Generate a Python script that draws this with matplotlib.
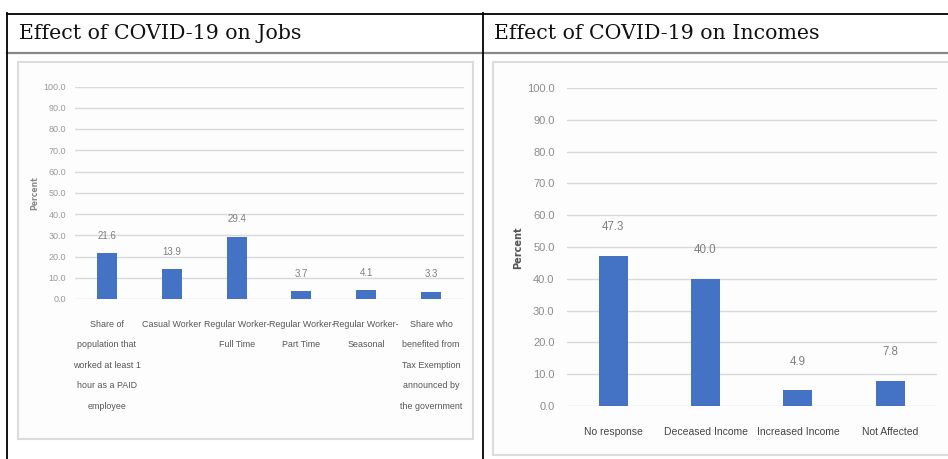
import matplotlib
matplotlib.use("Agg")
import matplotlib.pyplot as plt
from matplotlib.lines import Line2D
from matplotlib.patches import Rectangle

W, H = 948, 459

# ---- data ----
jobs_labels = [
    "Share of\npopulation that\nworked at least 1\nhour as a PAID\nemployee",
    "Casual Worker",
    "Regular Worker-\nFull Time",
    "Regular Worker-\nPart Time",
    "Regular Worker-\nSeasonal",
    "Share who\nbenefited from\nTax Exemption\nannounced by\nthe government",
]
jobs_values = [21.6, 13.9, 29.4, 3.7, 4.1, 3.3]

income_labels = ["No response", "Deceased Income", "Increased Income", "Not Affected"]
income_values = [47.3, 40.0, 4.9, 7.8]

y_ticks = [0, 10, 20, 30, 40, 50, 60, 70, 80, 90, 100]
titles = ["Effect of COVID-19 on Jobs", "Effect of COVID-19 on Incomes"]

BAR = "#4472C4"
GRID = "#d9d9d9"
TXT = "#7f7f7f"
NARROW = ["Liberation Sans Narrow", "Liberation Sans", "DejaVu Sans"]

fig = plt.figure(figsize=(W / 100, H / 100), dpi=100)
fig.patch.set_facecolor("white")


def fx(x):
    return x / W


def fy(y):
    return 1 - y / H


def hline(x0, x1, y, color, lw):
    fig.add_artist(Line2D([fx(x0), fx(x1)], [fy(y), fy(y)], color=color, lw=lw,
                          transform=fig.transFigure))


def vline(x, y0, y1, color, lw):
    fig.add_artist(Line2D([fx(x), fx(x)], [fy(y0), fy(y1)], color=color, lw=lw,
                          transform=fig.transFigure))


# chart image boxes
for (x0, y0, x1, y1) in [(18, 62, 473, 439), (493, 62, 952, 455)]:
    fig.add_artist(Rectangle((fx(x0), fy(y1)), fx(x1) - fx(x0), fy(y0) - fy(y1),
                             transform=fig.transFigure, facecolor="#fdfdfd",
                             edgecolor="#dcdcdc", lw=1.5, zorder=0))

# table lines
hline(7, 948, 13.5, "black", 1.3)
hline(7, 948, 52.5, "#888888", 1.6)
vline(7, 13, 459, "black", 1.3)
vline(483, 13, 459, "black", 1.3)

# titles
fig.text(fx(19), fy(33.5), titles[0], family="DejaVu Serif", fontsize=14.8,
         va="center", ha="left", color="#111111")
fig.text(fx(494), fy(33.5), titles[1], family="DejaVu Serif", fontsize=14.8,
         va="center", ha="left", color="#111111")


def make_axes(left, right, top, bottom):
    ax = fig.add_axes([fx(left), fy(bottom), fx(right) - fx(left), fy(top) - fy(bottom)])
    ax.set_facecolor("none")
    for s in ax.spines.values():
        s.set_visible(False)
    ax.set_ylim(0, 100)
    ax.set_yticks(y_ticks)
    ax.yaxis.grid(True, color=GRID, lw=1.0)
    ax.set_axisbelow(True)
    ax.tick_params(length=0)
    return ax


# ---- left chart ----
ax1 = make_axes(74.5, 463.5, 86.5, 299)
x1 = list(range(len(jobs_values)))
ax1.bar(x1, jobs_values, width=0.31, color=BAR, zorder=3)
ax1.set_xlim(-0.5, len(jobs_values) - 0.5)
ax1.set_yticks(y_ticks)
ax1.set_yticklabels([f"{v:.1f}" for v in y_ticks], family=NARROW, fontsize=6.5, color="#9a9a9a")
ax1.set_xticks(x1)
ax1.set_xticklabels(jobs_labels, family=NARROW, fontsize=6.4, color="#555555",
                    linespacing=2.65, va="top")
ax1.tick_params(axis="x", pad=15)
ax1.tick_params(axis="y", pad=6)
for xi, v in zip(x1, jobs_values):
    ax1.annotate(f"{v:.1f}", (xi, v), xytext=(0, 9), textcoords="offset points",
                 ha="center", va="bottom", family=NARROW, fontsize=7, color=TXT)
fig.text(fx(35), fy(193), "Percent", rotation=90, ha="center", va="center",
         family="DejaVu Sans", fontsize=5.5, fontweight="bold", color="#8a8a8a")

# ---- right chart ----
ax2 = make_axes(567, 936.5, 88, 406)
x2 = list(range(len(income_values)))
ax2.bar(x2, income_values, width=0.315, color=BAR, zorder=3)
ax2.set_xlim(-0.5, len(income_values) - 0.5)
ax2.set_yticklabels([f"{v:.1f}" for v in y_ticks], family=NARROW, fontsize=8, color="#8c8c8c")
ax2.set_xticks(x2)
ax2.set_xticklabels(income_labels, family=NARROW, fontsize=7.5, color="#444444")
ax2.tick_params(axis="x", pad=15)
ax2.tick_params(axis="y", pad=9)
for xi, v in zip(x2, income_values):
    ax2.annotate(f"{v:.1f}", (xi, v), xytext=(0, 16.5), textcoords="offset points",
                 ha="center", va="bottom", family=NARROW, fontsize=8.3, color=TXT)
fig.text(fx(518), fy(248), "Percent", rotation=90, ha="center", va="center",
         family="DejaVu Sans", fontsize=7, fontweight="bold", color="#555555")

fig.savefig("out.png", dpi=100, facecolor="white")
